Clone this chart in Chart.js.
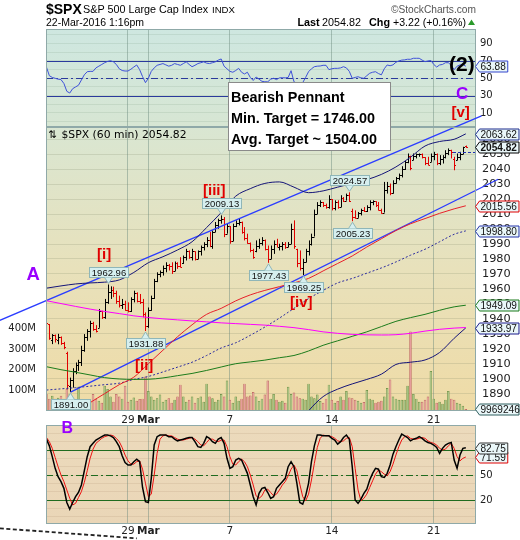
<!DOCTYPE html>
<html><head><meta charset="utf-8">
<script src="https://cdn.jsdelivr.net/npm/chart.js@4.4.1/dist/chart.umd.min.js"></script>
<style>
html,body{margin:0;padding:0;background:#fff;}
#wrap{position:relative;width:520px;height:540px;overflow:hidden;background:#fff;}
canvas{position:absolute;left:0;top:0;}
svg{position:absolute;left:0;top:0;pointer-events:none;}
</style></head><body>
<div id="wrap">
<canvas id="stoch" width="520" height="540" style="z-index:1"></canvas>
<canvas id="rsi" width="520" height="540" style="z-index:2"></canvas>
<canvas id="price" width="520" height="540" style="z-index:3"></canvas>
<svg width="520" height="540" style="z-index:4" font-family="Liberation Sans, Arial, sans-serif">
  <text x="46" y="14" font-size="14" font-weight="bold">$SPX</text>
  <text x="83" y="12.7" font-size="10.8">S&amp;P 500 Large Cap Index</text>
  <text x="212" y="12.7" font-size="9.6">INDX</text>
  <text x="46" y="26" font-size="10.5">22-Mar-2016 1:16pm</text>
  <text x="476" y="12.7" font-size="10.2" fill="#555" text-anchor="end">©StockCharts.com</text>
  <text x="297.5" y="26" font-size="10.8" font-weight="bold">Last</text>
  <text x="322" y="26" font-size="10.8">2054.82</text>
  <text x="369" y="26" font-size="10.8" font-weight="bold">Chg</text>
  <text x="393" y="26" font-size="10.6">+3.22 (+0.16%)</text>
  <polygon points="468,25 475,25 471.5,19.5" fill="#2a9a2a"/>
  <text x="48.5" y="137.5" font-family="DejaVu Sans" font-size="10.5">⇅</text>
  <text x="61.5" y="137.5" font-family="DejaVu Sans" font-size="10.8">$SPX (60 min) 2054.82</text>
  <rect x="228.5" y="82.5" width="162" height="68" fill="#fff" stroke="#8a8a8a"/>
  <text x="231" y="102.3" font-size="14.4" font-weight="bold">Bearish Pennant</text>
  <text x="231" y="123.3" font-size="14.4" font-weight="bold">Min. Target = 1746.00</text>
  <text x="231" y="144.3" font-size="14.4" font-weight="bold">Avg. Target ~ 1504.00</text>
  <text x="449" y="71" font-size="21" font-weight="bold">(2)</text>
  <text x="456" y="99" font-size="17" font-weight="bold" fill="#9900ff">C</text>
  <text x="451.5" y="117" font-size="15" font-weight="bold" fill="#e00000">[v]</text>
  <text x="203" y="195" font-size="15" font-weight="bold" fill="#e00000">[iii]</text>
  <text x="97" y="259" font-size="15" font-weight="bold" fill="#e00000">[i]</text>
  <text x="135" y="370" font-size="15" font-weight="bold" fill="#e00000">[ii]</text>
  <text x="290" y="307" font-size="15" font-weight="bold" fill="#e00000">[iv]</text>
  <text x="26.5" y="280" font-size="18.5" font-weight="bold" fill="#9900ff">A</text>
  <text x="61.5" y="433" font-size="16" font-weight="bold" fill="#9900ff">B</text>
</svg>
</div>
<script>
// ---------------- DATA ----------------
const DATE_TICK_POS = [28, 35, 63, 98, 133];
const DATE_TICK_LABELS = ['29', 'Mar', '7', '14', '21'];
const PRICE_TICKS = [1890,1900,1910,1920,1930,1940,1950,1960,1970,1980,1990,2000,2010,2020,2030,2040,2050,2060];
const VOL_TICKS = [100, 200, 300, 400];
const RSI_GRID = [0,10,20,30,40,50,60,70,80,90,100];
const RSI_LABELS = [10, 30, 50, 70, 90];
const STOCH_GRID = [0,10,20,30,40,50,60,70,80,90,100];
const STOCH_LABELS = [20, 50];
const RSI_LEVELS = [70, 50, 30];
const STOCH_LEVELS = [80, 50, 20];
const PREV_CLOSE = 2051.60;

const OPEN = [1941,1936.5,1926,1929,1926,1928,1924,1917,1895,1899, 1905,1909,1911,1919,1928,1932,1937,1933,1934,1945,
 1941,1951,1958,1959,1957,1952,1949,1950,1946,1945, 1953,1957,1952,1951,1943,1935,1946,1954,1965,1970,
 1971,1974,1976,1975,1972,1977,1975,1977,1981,1985, 1981,1985,1980,1985,1988,1990,1993,1989,1998,2003,
 2006,2007,1997,2002,1992,2002,2004,2005,1998,1994, 1991,1986,1985,1989,1991,1993,1987,1980,1987,1990,
 1988,1989,1990,1988,1990,2000,1986.8,1977,1974,1978, 1985,1990,1995,2010,2016,2018,2016,2015,2020,2014,
 2018,2015,2021,2019,2023,2012,2008,2007.5,2010.5,2013, 2012,2015,2018,2018.5,2016,2013,2011,2026,2029,2024,
 2031,2034,2036,2040,2044.5,2049,2046,2049,2050,2050.3, 2048,2044,2045,2049,2050,2044,2047,2048,2051,2053,
 2047,2046,2048,2050,2055.5];
const HIGH = [1942.5,1936.5,1929.8,1929.5,1930,1928.2,1924.6,1918,1900.7,1907, 1910.8,1912.6,1922,1929.8,1933.1,1938.7,1938,1935.8,1946.6,1945.4,
 1953.3,1962.96,1961.7,1961.5,1958.8,1955.5,1953.3,1952.1,1951,1954.4, 1958.8,1957.7,1956.6,1953.3,1944.3,1947.6,1955.5,1966.7,1971.1,1972.3,
 1975.6,1977.8,1976.7,1977.8,1978.3,1977.8,1981.2,1982.3,1986.8,1985.7, 1986.8,1985,1985.7,1989,1991.2,1994.6,1998,1999.1,2004.7,2006.9,
 2009.13,2008,2003.6,2002,2003.6,2005.8,2006.9,2005,2001.3,1996.9, 1991,1986.8,1992.4,1993.5,1994.6,1993,1989,1989,1992.4,1993.5,
 1990.2,1991.3,1991.3,1991.3,2003.6,2005.8,1986.8,1985.7,1980.1,1986.8, 1992.4,1996.9,2013,2018,2019.2,2018.1,2017,2022.6,2020,2019.2,
 2019.2,2022.6,2021.4,2023.7,2024.57,2013.6,2012.5,2011.4,2013.6,2014.7, 2015.9,2019.2,2019.2,2018.5,2018.1,2013.6,2031.5,2031.5,2030.4,2032.6,
 2034.8,2037.1,2042,2045.5,2050.5,2049,2050.5,2050.5,2050.5,2050.5, 2048,2048.3,2050.5,2051.6,2050.5,2049.4,2049.4,2052.7,2053.9,2053,
 2048.3,2050.5,2051.6,2055,2055.8];
const LOW = [1935.8,1926,1923.1,1924.2,1923,1922.6,1919.7,1893,1891,1894, 1903,1905.2,1908.5,1918,1925.3,1927.5,1932,1930.9,1934,1939.9,
 1940,1950,1953.3,1954.5,1950,1947.6,1946.6,1945.4,1944.3,1944.6, 1951,1951,1949.9,1941,1931.88,1934,1945.4,1953.3,1964.5,1967.8,
 1968.9,1971.1,1972.3,1970,1972,1973.4,1974.5,1976.7,1979,1980.1, 1979,1979,1980,1982.3,1985.7,1987.9,1987.9,1986.8,1998,2000.2,
 2003.6,1994.6,1996.9,1990.2,1992,2001.3,2002.4,1996.9,1992.4,1990.2, 1984.5,1980.1,1984.5,1986.8,1989,1985.7,1977.43,1980,1983.4,1987.9,
 1985.7,1985.7,1986.8,1987.9,1990,1986.8,1974.5,1972.3,1969.25,1977.8, 1982.3,1989,1995,2010,2014.7,2014.7,2013.6,2013.6,2012.5,2012.5,
 2013.6,2014.7,2018.1,2019,2018.1,2005.23,2007,2007.5,2009.1,2011.4, 2011.4,2012.5,2015.9,2014.7,2012.5,2010.3,2011,2023.7,2022.6,2023.7,
 2030.4,2032.6,2034.5,2039.5,2044,2039.3,2046,2047.2,2048.3,2047.2, 2042.7,2042.7,2044.9,2046,2042.7,2042.7,2043.8,2047.2,2049.4,2047.2,
 2039.3,2046,2046,2050,2054.3];
const CLOSE = [1937,1927,1929,1926.5,1928,1924,1921,1896,1899,1905, 1909,1911,1919,1928,1932,1937,1933,1932,1945,1941,
 1951,1958,1959,1957,1952,1949,1950,1946,1945,1953, 1957,1952,1951,1943,1935,1946,1954,1965,1970,1971,
 1974,1976,1975,1972,1977,1975,1974.6,1981,1985,1981, 1985,1980,1985,1988,1990,1993,1989,1998,2003,2006,
 2007,1997,2002,1992,2002,2004,2005,1998,1994,1991, 1986,1981,1989,1991,1993,1987,1980,1987,1990,1988,
 1989,1990,1988,1990,2000,1989,1977,1974,1978,1985, 1990,1995,2010,2016,2018,2016,2015,2020,2014,2018,
 2015,2021,2019,2023,2019,2008,2007.5,2010.5,2013,2012, 2015,2018,2018.5,2016,2013,2011,2026,2029,2024,2031,
 2034,2036,2040,2044.5,2049,2041,2049,2050,2050.3,2048, 2044,2043,2049,2050,2044,2047,2048,2051,2053,2051.6,
 2043,2048,2050,2054.9,2054.82];
// volume in millions of shares
const VOLUME = [82,59,74,59,64,74,60,107,82,59, 50,118,54,44,36,44,82,59,50,40,
 123,107,70,45,82,70,60,123,45,55, 65,50,58,60,168,97,70,55,62,80,
 45,55,62,40,55,70,128,70,45,55, 70,40,62,70,45,133,70,62,45,55,
 82,70,148,55,40,70,50,60,133,70, 75,92,70,49,60,80,148,60,82,55,
 45,50,40,118,82,90,70,62,60,55, 133,70,62,80,48,40,60,128,55,40,
 48,70,55,97,65,62,55,50,40,44, 102,60,55,40,45,50,70,112,153,70,
 60,55,55,55,123,386,82,60,45,45, 55,70,194,60,40,45,35,55,97,60,
 55,40,35,25,9.969246];
const RSI = [63,53,51,50,49,48.5,44,35,33,38, 40,42,48,54,57.6,58,58,62,64,66,
 68,69.5,70.3,69,66,61,59,58.4,58.4,60.5, 63,65.4,60,52,45,50,58,62,65,66,
 67,65.5,64,65,67,66,65,67,69,66, 63.4,65,67,68,69,67.5,67,68,69,71,
 72.3,64,61,58,57,59,61.5,57,55,57, 51,47.5,51.5,49,46.5,46,46,49,50,48.5,
 50.5,50.7,50.5,51,58.8,46,44,44.2,45,51, 57.6,61,63.4,64,64.2,65,65,60,61,61.5,
 61.5,62,63.4,62,58,50,51,51.8,50.5,50, 53,55.8,57,57.6,55.5,54,61,65.4,64.5,65.5,
 68.5,70,71,71.3,72,71.9,73.1,73.1,73.1,71, 69.2,70,70.6,66,63,65.4,66,68,68,65,
 60,64,65.4,66,63.88];
const STOCH_K = [93,85,72,58,48,42,34,17,9,17, 24,29,38,55,72,84,88,92,94,96,
 98,98,97,95,90,84,73,65,62,62, 66,69,66,35,18,17,46,86,96,98,
 98,98,96,96,93,91,92,93,94,95, 95,90,84,83,88,96,94,90,88,93,
 95,88,70,58,60,68,70,68,60,52, 38,24,14,28,34,35,29,22,24,34,
 38,42,46,60,66,60,40,17,15,25, 40,66,85,98,98,97,97,97,94,92,
 87,90,95,98,93,60,20,16,21,28, 33,44,52,58,57,48,47,52,62,75,
 84,92,99,97,95,91,93,94,96,94, 91,89,88,86,83,76,82,86,88,89,
 68,58,74,82,82.75];
const STOCH_D = [95,90,82,71,60,50,42,32,22,14, 16,23,30,41,55,70,81,88,91,94,
 96,97,98,97,94,90,83,74,67,63, 63,66,67,57,40,24,27,50,76,93,
 97,98,97,97,95,93,92,92,93,94, 95,93,90,86,85,89,93,93,91,90,
 92,92,84,72,63,62,66,69,66,60, 50,38,25,22,25,32,33,29,25,27,
 32,38,42,49,57,62,55,39,24,19, 27,44,64,83,94,98,97,97,96,94,
 91,90,91,94,95,84,58,32,19,22, 27,35,43,51,56,54,51,49,54,63,
 74,84,92,96,97,94,93,93,94,95, 94,91,89,88,86,82,80,81,85,88,
 82,72,67,70,71.59];
// overlays sampled along the bar index
const OVERLAY_X = [0,5,10,15,20,25,30,35,40,45,50,55,60,65,70,75,80,85,90,95,100,105,110,115,120,125,130,135,140,144];
const BB_UPPER = [1960.5,1962,1963.3,1964,1964.5,1966,1971,1977.5,1981.5,1986,1991.5,2001,2011,2022,2027,2030.5,2031.5,2028,2024.3,2025.5,2028,2030.5,2033,2036.5,2041.5,2048,2055.5,2058.5,2060,2063.62];
const BB_MID = [1892.4,1893.2,1894,1895,1896,1897,1899.5,1901.5,1904.5,1907.7,1911,1915.5,1920.5,1924,1929,1934.5,1940.5,1947,1953.5,1959,1964,1967,1970.5,1974,1978,1982.5,1986.5,1991.5,1996.5,1998.80];
const BB_LOWER = [null,null,null,null,null,null,null,null,null,null,null,null,null,null,null,null,null,1866,1878.5,1888,1893,1896.5,1899.5,1903,1909.5,1911,1912.5,1917.5,1927,1933.97];
const MA_RED = [1867,1872,1877,1884,1890,1896,1901,1910,1919,1928,1936,1943,1947,1952,1956,1959,1961.5,1964,1967,1972,1977,1982,1988,1993.5,1999,2003.5,2007,2010.5,2013.5,2015.56];
const MA_GREEN = [1908,1906,1904.3,1902.5,1900.7,1899.8,1899.5,1899.6,1900.5,1902,1903.5,1905.5,1907.8,1910,1911.2,1912.4,1914,1915.5,1918.5,1922.3,1925.3,1928.3,1931.3,1934.8,1938.3,1940.8,1943,1945.7,1948,1949.09];
const MA_MAGENTA = [1952.1,1950.2,1948.3,1946.5,1944.9,1943.5,1942,1940.9,1940,1939.3,1938.6,1938,1937.3,1936.8,1936.3,1935.8,1935,1934.1,1932.8,1931.3,1930.3,1929.6,1929.3,1929.2,1929.4,1930.3,1931.8,1933,1933.8,1934.2];
// hand-drawn trend lines (bar index, price) and the stoch-panel dashed line
const CHANNEL_UPPER = [{x:-16, y:1939}, {x:149.4, y:2075.7}];
const CHANNEL_LOWER = [{x:8.3, y:1891}, {x:155.1, y:2033.3}];
const DASHED_TREND = [{x:-16, y:-14}, {x:31, y:-26}];
// labelled pivots
const PIVOTS = [{i:8,k:'low'},{i:21,k:'high'},{i:34,k:'low'},{i:60,k:'high'},{i:76,k:'low'},{i:88,k:'low'},{i:104,k:'high'},{i:105,k:'low'}];

// ---------------- CONFIG ----------------
const X_MIN = -0.15, X_MAX = 147.5;
const PRICE_MIN = 1878.4, PRICE_MAX = 2068.2;
const VOL_MAX = 1380;
const RSI_MIN = -6.2, RSI_MAX = 106.9;
const STOCH_MIN = -8.8, STOCH_MAX = 110;

Chart.defaults.animation = false;
Chart.defaults.responsive = false;
Chart.defaults.maintainAspectRatio = false;
Chart.defaults.devicePixelRatio = 1;
Chart.defaults.events = [];
Chart.defaults.font.family = 'DejaVu Sans';
Chart.defaults.plugins.legend.display = false;
Chart.defaults.plugins.tooltip.enabled = false;

const BORDER = '#8fa9a8';
const BOX_FILL = '#eaf7f9';
const VALUE_FONT = '10.1px "Liberation Sans", Arial, sans-serif';

function bgPlugin(stops) {
  return {
    id: 'bg',
    beforeDraw(chart) {
      const {ctx, chartArea: a} = chart;
      const g = ctx.createLinearGradient(0, a.top, 0, a.bottom);
      stops.forEach(s => g.addColorStop(s[0], s[1]));
      ctx.save(); ctx.fillStyle = g; ctx.fillRect(a.left, a.top, a.width, a.height); ctx.restore();
    },
    afterDraw(chart) {
      const {ctx, chartArea: a} = chart;
      ctx.save(); ctx.strokeStyle = BORDER; ctx.lineWidth = 1;
      ctx.strokeRect(Math.round(a.left) + 0.5, Math.round(a.top) + 0.5, Math.round(a.width) - 1, Math.round(a.height) - 1);
      ctx.restore();
    }
  };
}

function levelPlugin(levels, color, width) {
  return {
    id: 'levels',
    beforeDatasetsDraw(chart) {
      const {ctx, chartArea: a, scales: {y}} = chart;
      ctx.save(); ctx.strokeStyle = color; ctx.lineWidth = width;
      levels.forEach((v, k) => {
        const py = Math.round(y.getPixelForValue(v)) + 0.5;
        ctx.setLineDash(k === 1 ? [7, 3, 2, 3] : []);
        ctx.beginPath(); ctx.moveTo(a.left, py); ctx.lineTo(a.right, py); ctx.stroke();
      });
      ctx.restore();
    }
  };
}

function valueBox(ctx, x0, yPix, text, border, bold) {
  ctx.save();
  ctx.font = (bold ? 'bold ' : '') + VALUE_FONT;
  const tw = ctx.measureText(text).width;
  const tip = 4, h = 11, w = Math.min(tip + tw + 3, 519 - x0);
  const y = Math.round(yPix) + 0.5;
  ctx.beginPath();
  ctx.moveTo(x0, y);
  ctx.lineTo(x0 + tip, y - h / 2);
  ctx.lineTo(x0 + w, y - h / 2);
  ctx.lineTo(x0 + w, y + h / 2);
  ctx.lineTo(x0 + tip, y + h / 2);
  ctx.closePath();
  ctx.fillStyle = BOX_FILL; ctx.fill();
  ctx.strokeStyle = border; ctx.lineWidth = 1; ctx.stroke();
  ctx.fillStyle = '#111'; ctx.textBaseline = 'middle'; ctx.textAlign = 'left';
  ctx.fillText(text, x0 + tip + 1, y + 0.5);
  ctx.restore();
}

function pivotTag(ctx, cx, tipY, text, above) {
  ctx.save();
  ctx.font = '9.5px "Liberation Sans", Arial, sans-serif';
  const tw = ctx.measureText(text).width;
  const w = Math.round(tw + 5), h = 10, gap = 6;
  const left = Math.round(cx - w / 2) + 0.5;
  const top = above ? Math.round(tipY - gap - h) + 0.5 : Math.round(tipY + gap) + 0.5;
  ctx.fillStyle = '#d6efef'; ctx.strokeStyle = '#8fb6b8'; ctx.lineWidth = 1;
  ctx.fillRect(left, top, w, h); ctx.strokeRect(left, top, w, h);
  const edge = above ? top + h : top;
  ctx.beginPath(); ctx.moveTo(cx - 4, edge); ctx.lineTo(cx, tipY); ctx.lineTo(cx + 4, edge); ctx.closePath();
  ctx.fill();
  ctx.beginPath(); ctx.moveTo(cx - 4, edge); ctx.lineTo(cx, tipY); ctx.lineTo(cx + 4, edge); ctx.stroke();
  ctx.fillStyle = '#111'; ctx.textBaseline = 'middle'; ctx.textAlign = 'center';
  ctx.fillText(text, left + w / 2, top + h / 2 + 0.5);
  ctx.restore();
}

function xScale(showLabels, height, pad) {
  return {
    type: 'linear', min: X_MIN, max: X_MAX, offset: false,
    grid: {color: 'rgba(105,135,125,0.45)', drawTicks: false, offset: false},
    border: {display: false},
    afterBuildTicks: s => { s.ticks = DATE_TICK_POS.map(v => ({value: v})); },
    ticks: {
      display: showLabels, autoSkip: false, maxRotation: 0, minRotation: 0, padding: pad, color: '#222',
      callback: v => DATE_TICK_LABELS[DATE_TICK_POS.indexOf(v)],
      font: c => ({family: 'DejaVu Sans', size: 10.5,
        weight: (c.tick && DATE_TICK_LABELS[DATE_TICK_POS.indexOf(c.tick.value)] === 'Mar') ? 'bold' : 'normal'})
    },
    afterFit: s => { s.height = height; }
  };
}

const pts = (xs, ys) => xs.map((x, k) => ({x: x, y: ys[k]}));
const seq = ys => ys.map((y, i) => ({x: i, y: y}));
const isUp = CLOSE.map((c, i) => i === 0 ? c >= OPEN[0] : c >= CLOSE[i - 1]);

// ---------------- RSI PANEL ----------------
new Chart(document.getElementById('rsi'), {
  type: 'line',
  data: {datasets: [{data: seq(RSI), borderColor: '#3f51d9', borderWidth: 1, pointRadius: 0, tension: 0}]},
  options: {
    layout: {autoPadding: false, padding: {left: 46, top: 29, right: 0, bottom: 413}},
    scales: {
      x: xScale(false, 0, 0),
      y: {
        type: 'linear', position: 'right', min: RSI_MIN, max: RSI_MAX,
        afterBuildTicks: s => { s.ticks = RSI_GRID.map(v => ({value: v})); },
        ticks: {font: {family: 'DejaVu Sans', size: 10}, color: '#222', padding: 4, autoSkip: false,
          callback: v => RSI_LABELS.includes(v) ? String(v) : ''},
        grid: {color: 'rgba(110,140,120,0.16)', drawTicks: false}, border: {display: false},
        afterFit: s => { s.width = 44; }
      }
    }
  },
  plugins: [bgPlugin([[0, '#cee7e0'], [1, '#d7e6d3']]), levelPlugin(RSI_LEVELS, '#2b3a9c', 1.1), {
    id: 'rsiBox',
    afterDraw(chart) {
      const y = chart.scales.y;
      valueBox(chart.ctx, 475.5, y.getPixelForValue(RSI[RSI.length - 1]), RSI[RSI.length - 1].toFixed(2), '#3344cc', false);
    }
  }]
});

// ---------------- PRICE PANEL ----------------
const lineDs = (data, color, extra) => Object.assign({type: 'line', data: data, borderColor: color, borderWidth: 1,
  pointRadius: 0, tension: 0.35, cubicInterpolationMode: 'monotone', yAxisID: 'y', order: 1}, extra || {});

new Chart(document.getElementById('price'), {
  type: 'line',
  data: {datasets: [
    {type: 'bar', data: seq(VOLUME), yAxisID: 'yVol', order: 10,
      backgroundColor: isUp.map(u => u ? '#a2c183' : '#e59d9b'),
      borderColor: isUp.map(u => u ? '#5f8a3a' : '#b85c5a'),
      borderWidth: 0.7, categoryPercentage: 1, barPercentage: 0.86},
    lineDs(pts(OVERLAY_X, MA_MAGENTA), '#ff00ff'),
    lineDs(pts(OVERLAY_X, MA_GREEN), '#1c7c1c'),
    lineDs(pts(OVERLAY_X, MA_RED), '#e8202a'),
    lineDs(pts(OVERLAY_X, BB_MID), '#2a2aa0', {borderDash: [2, 2]}),
    lineDs(pts(OVERLAY_X, BB_LOWER), '#141478'),
    lineDs(pts(OVERLAY_X, BB_UPPER), '#141478'),
    lineDs(CHANNEL_UPPER, '#2b3dff', {borderWidth: 1.3, tension: 0, clip: false}),
    lineDs(CHANNEL_LOWER, '#2b3dff', {borderWidth: 1.3, tension: 0, clip: false})
  ]},
  options: {
    layout: {autoPadding: false, padding: {left: 0, top: 127, right: 0, bottom: 109}},
    scales: {
      x: xScale(true, 20, 3),
      y: {
        type: 'linear', position: 'right', min: PRICE_MIN, max: PRICE_MAX,
        afterBuildTicks: s => { s.ticks = PRICE_TICKS.map(v => ({value: v})); },
        ticks: {font: {family: 'DejaVu Sans', size: 11.3}, color: '#222', padding: 6, autoSkip: false, callback: v => String(v)},
        grid: {color: 'rgba(120,130,100,0.2)', drawTicks: false}, border: {display: false},
        afterFit: s => { s.width = 44; }
      },
      yVol: {
        type: 'linear', position: 'left', min: 0, max: VOL_MAX,
        afterBuildTicks: s => { s.ticks = VOL_TICKS.map(v => ({value: v})); },
        ticks: {font: {family: 'DejaVu Sans', size: 10}, color: '#222', padding: 2, autoSkip: false, callback: v => v + 'M'},
        grid: {display: false}, border: {display: false},
        afterFit: s => { s.width = 46; }
      }
    }
  },
  plugins: [bgPlugin([[0, '#d9e6d2'], [0.5, '#e8e1bb'], [1, '#efdba6']]), {
    id: 'ohlc',
    afterDatasetDraw(chart, args) {
      if (args.index !== 0) return;
      const {ctx, chartArea: a, scales: {x, y}} = chart;
      ctx.save();
      ctx.beginPath(); ctx.rect(a.left, a.top, a.width, a.height); ctx.clip();
      ctx.lineWidth = 1;
      for (let i = 0; i < CLOSE.length; i++) {
        const px = Math.round(x.getPixelForValue(i)) + 0.5;
        const yh = y.getPixelForValue(HIGH[i]), yl = y.getPixelForValue(LOW[i]);
        const yo = Math.round(y.getPixelForValue(OPEN[i])) + 0.5, yc = Math.round(y.getPixelForValue(CLOSE[i])) + 0.5;
        ctx.strokeStyle = isUp[i] ? '#000' : '#e00000';
        ctx.beginPath();
        ctx.moveTo(px, Math.min(yh, yl - 1)); ctx.lineTo(px, yl);
        ctx.moveTo(px - 1.5, yo); ctx.lineTo(px, yo);
        ctx.moveTo(px, yc); ctx.lineTo(px + 1.5, yc);
        ctx.stroke();
      }
      ctx.restore();
    },
    afterDatasetsDraw(chart) {
      const {ctx, chartArea: a, scales: {x, y}} = chart;
      const py = Math.round(y.getPixelForValue(PREV_CLOSE)) + 0.5;
      ctx.save(); ctx.strokeStyle = '#1f2fb0'; ctx.lineWidth = 1; ctx.setLineDash([3, 2]);
      ctx.beginPath(); ctx.moveTo(x.getPixelForValue(139.6), py); ctx.lineTo(a.right, py); ctx.stroke();
      ctx.restore();
    },
    afterDraw(chart) {
      const {ctx, scales: {x, y, yVol}} = chart;
      PIVOTS.forEach(p => {
        const cx = Math.round(x.getPixelForValue(p.i)) + 0.5;
        if (p.k === 'high') pivotTag(ctx, cx, y.getPixelForValue(HIGH[p.i]) - 1, HIGH[p.i].toFixed(2), true);
        else pivotTag(ctx, cx, y.getPixelForValue(LOW[p.i]) + 1, LOW[p.i].toFixed(2), false);
      });
      const last = a => a[a.length - 1];
      valueBox(ctx, 475.5, yVol.getPixelForValue(last(VOLUME)), String(Math.round(last(VOLUME) * 1e6)), '#2f5f5f', false);
      valueBox(ctx, 475.5, y.getPixelForValue(last(BB_LOWER)), last(BB_LOWER).toFixed(2), '#1a1a8c', false);
      valueBox(ctx, 475.5, y.getPixelForValue(last(MA_GREEN)), last(MA_GREEN).toFixed(2), '#1a7a1a', false);
      valueBox(ctx, 475.5, y.getPixelForValue(last(BB_MID)), last(BB_MID).toFixed(2), '#2233aa', false);
      valueBox(ctx, 475.5, y.getPixelForValue(last(MA_RED)), last(MA_RED).toFixed(2), '#e00000', false);
      valueBox(ctx, 475.5, y.getPixelForValue(last(BB_UPPER)), last(BB_UPPER).toFixed(2), '#1a2b8c', false);
      valueBox(ctx, 475.5, y.getPixelForValue(last(CLOSE)), last(CLOSE).toFixed(2), '#000', true);
    }
  }]
});

// ---------------- STOCHASTICS PANEL ----------------
new Chart(document.getElementById('stoch'), {
  type: 'line',
  data: {datasets: [
    {data: seq(STOCH_K), borderColor: '#000', borderWidth: 1.5, pointRadius: 0, tension: 0},
    {data: seq(STOCH_D), borderColor: '#ee1111', borderWidth: 1, pointRadius: 0, tension: 0},
    {data: DASHED_TREND, borderColor: '#222', borderWidth: 1.8, borderDash: [4, 2.5], pointRadius: 0, tension: 0, clip: false}
  ]},
  options: {
    layout: {autoPadding: false, padding: {left: 46, top: 425, right: 0, bottom: 2}},
    scales: {
      x: xScale(true, 14, 1),
      y: {
        type: 'linear', position: 'right', min: STOCH_MIN, max: STOCH_MAX,
        afterBuildTicks: s => { s.ticks = STOCH_GRID.map(v => ({value: v})); },
        ticks: {font: {family: 'DejaVu Sans', size: 10}, color: '#222', padding: 4, autoSkip: false,
          callback: v => STOCH_LABELS.includes(v) ? String(v) : ''},
        grid: {color: 'rgba(160,130,100,0.16)', drawTicks: false}, border: {display: false},
        afterFit: s => { s.width = 44; }
      }
    }
  },
  plugins: [bgPlugin([[0, '#ecdabc'], [1, '#ead6b7']]), levelPlugin(STOCH_LEVELS, '#1f6b1f', 1.2), {
    id: 'stochBox',
    afterDraw(chart) {
      const y = chart.scales.y;
      valueBox(chart.ctx, 475.5, y.getPixelForValue(STOCH_D[STOCH_D.length - 1]), STOCH_D[STOCH_D.length - 1].toFixed(2), '#e00000', false);
      valueBox(chart.ctx, 475.5, y.getPixelForValue(STOCH_K[STOCH_K.length - 1]), STOCH_K[STOCH_K.length - 1].toFixed(2), '#333', false);
    }
  }]
});
</script>
</body></html>
